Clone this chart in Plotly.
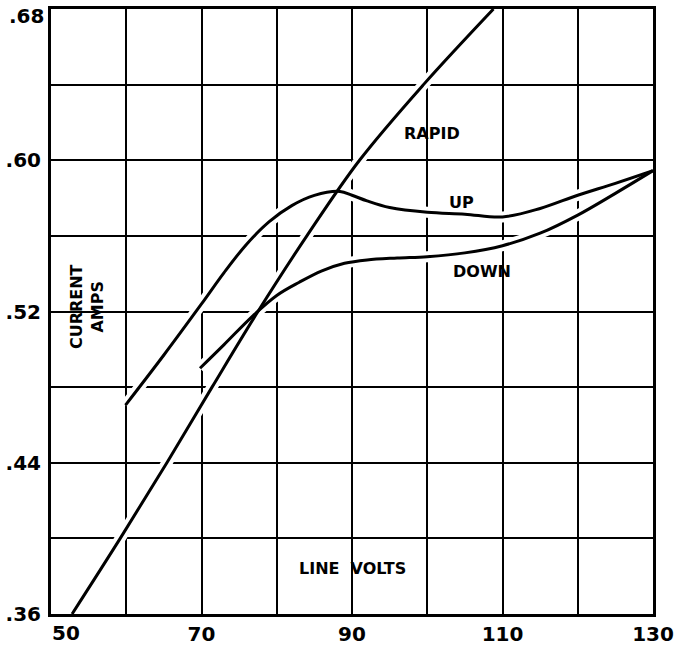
import plotly.graph_objects as go

# ---- data ----
rapid_volts = [52.8, 59.2, 65.4, 71.4, 77.5, 84.0, 91.0, 99.5, 108.8]
rapid_amps = [0.36, 0.40, 0.44, 0.48, 0.52, 0.56, 0.60, 0.64, 0.68]

up_volts = [59.9, 65, 70, 73, 76, 79, 82, 85, 88.4, 90, 92, 95, 100, 105, 110, 115, 120, 125, 130]
up_amps = [0.4705, 0.497, 0.524, 0.5406, 0.5556, 0.5675, 0.576, 0.5814, 0.5835, 0.5815, 0.5785,
           0.5750, 0.5725, 0.5715, 0.5700, 0.5745, 0.5815, 0.5878, 0.5945]

down_volts = [69.8, 73, 76.9, 80, 83, 86, 89, 92, 96, 100, 105, 110, 115, 120, 125, 130]
down_amps = [0.490, 0.5025, 0.518, 0.5285, 0.5355, 0.5415, 0.5455, 0.5473, 0.5483, 0.549,
             0.551, 0.5548, 0.5614, 0.571, 0.5825, 0.5945]

x_tickvals = [50, 60, 70, 80, 90, 100, 110, 120, 130]
x_ticktext = ["50", "", "70", "", "90", "", "110", "", "130"]
y_tickvals = [0.36, 0.40, 0.44, 0.48, 0.52, 0.56, 0.60, 0.64, 0.68]
y_ticktext = [".36", "", ".44", "", ".52", "", ".60", "", ".68"]

curve_labels = ["RAPID", "UP", "DOWN"]
label_pos_volts = [100.6, 104.5, 107.3]
label_pos_amps = [0.6144, 0.5774, 0.5414]

FONT = "DejaVu Sans"
TICKFONT = dict(family=FONT, size=20, color="black", weight="bold")
series = [(rapid_volts, rapid_amps), (up_volts, up_amps), (down_volts, down_amps)]

fig = go.Figure()
# white halos (break the grid near the curves, like the hand drawing)
for xs, ys in series:
    fig.add_trace(go.Scatter(x=xs, y=ys, mode="lines", line=dict(color="white", width=11, shape="spline"),
                             hoverinfo="skip", showlegend=False))
for xs, ys in series:
    fig.add_trace(go.Scatter(x=xs, y=ys, mode="lines", line=dict(color="black", width=3, shape="spline"),
                             showlegend=False))

for t, xv, yv in zip(curve_labels, label_pos_volts, label_pos_amps):
    fig.add_annotation(x=xv, y=yv, text=t, showarrow=False,
                       font=dict(family=FONT, size=16, color="black", weight="bold"))

fig.add_annotation(x=90.1, y=0.3843, text="LINE\u00a0\u00a0VOLTS", showarrow=False,
                   font=dict(family=FONT, size=16, color="black", weight="bold"))
fig.add_annotation(x=54.8, y=0.5224, text="CURRENT<br>AMPS", showarrow=False, textangle=-90,
                   font=dict(family=FONT, size=16, color="black", weight="bold"))

# the end labels sit inside the page in the original drawing (top ".68" lowered, "50" moved right)
axis_y_text = list(y_ticktext[:-1]) + [""]
axis_x_text = [""] + list(x_ticktext[1:])
fig.add_annotation(x=x_tickvals[0], y=y_tickvals[-1], text=y_ticktext[-1], showarrow=False,
                   xanchor="right", yanchor="middle", xshift=-5, yshift=-7, font=TICKFONT)
fig.add_annotation(x=x_tickvals[0], y=y_tickvals[0], text=x_ticktext[0], showarrow=False,
                   xanchor="left", yanchor="top", xshift=-1, yshift=-5, font=TICKFONT)

fig.update_xaxes(range=[50, 130], tickvals=x_tickvals, ticktext=axis_x_text, automargin=False,
                 showgrid=True, gridcolor="black", gridwidth=2, zeroline=False,
                 showline=True, linecolor="black", linewidth=3, mirror=True,
                 ticks="", ticklabelstandoff=0, ticklabeloverflow="allow", tickfont=TICKFONT)
fig.update_yaxes(range=[0.36, 0.68], tickvals=y_tickvals, ticktext=axis_y_text, automargin=False,
                 showgrid=True, gridcolor="black", gridwidth=2, zeroline=False,
                 showline=True, linecolor="black", linewidth=3, mirror=True,
                 ticks="", ticklabelstandoff=3, ticklabeloverflow="allow", tickfont=TICKFONT)

fig.update_layout(width=683, height=647, margin=dict(l=51, r=30, t=9, b=33),
                  paper_bgcolor="white", plot_bgcolor="white", showlegend=False)

fig.write_html("out.html", config={"displayModeBar": False},
               post_script="document.body.style.margin='0px';document.body.style.overflow='hidden';")
